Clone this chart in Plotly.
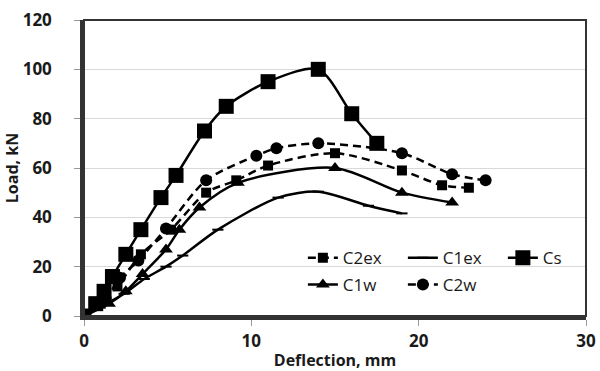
import plotly.graph_objects as go

# Data
cs_x = [0, 0.7, 1.2, 1.7, 2.5, 3.4, 4.6, 5.5, 7.2, 8.5, 11.0, 14.0, 16.0, 17.5]
cs_y = [0, 5, 10, 16, 25, 35, 48, 57, 75, 85, 95, 100, 82, 70]

c2ex_x = [0, 1.0, 2.0, 3.4, 5.2, 7.3, 9.1, 11.0, 15.0, 19.0, 21.4, 23.0]
c2ex_y = [0, 5, 12, 25, 35, 50, 55, 61, 66, 59, 53, 52]

c2w_x = [0, 1.3, 2.15, 3.25, 4.9, 7.3, 10.3, 11.5, 14.0, 19.0, 22.0, 24.0]
c2w_y = [0, 7, 15.5, 22.5, 35.5, 55, 65, 68, 70, 66, 57.5, 55]

c1w_x = [0, 1.5, 2.5, 3.5, 4.9, 5.7, 6.9, 9.2, 15.0, 19.0, 22.0]
c1w_y = [0, 5, 10, 17, 27, 35, 44, 54, 60, 50, 46]

c1ex_x = [0, 1.2, 2.4, 3.6, 4.9, 5.9, 8.0, 11.6, 14.0, 17.0, 19.0]
c1ex_y = [0, 4.5, 9, 15, 20, 24.5, 35, 48, 50.4, 44.7, 41.6]

x_ticks = [0, 10, 20, 30]
y_ticks = [0, 20, 40, 60, 80, 100, 120]

FONT = "Open Sans"
BLACK = "#000000"
TXT = "#1a1a1a"

fig = go.Figure()

def add(name, x, y, symbol, size, dash, legend):
    fig.add_trace(go.Scatter(
        x=x, y=y, name=name, mode="lines+markers",
        line=dict(color=BLACK, width=2.5, dash=dash, shape="spline", smoothing=0.8),
        marker=dict(symbol=symbol, size=size, color=BLACK,
                    line=dict(color=BLACK, width=2 if symbol == "line-ew" else 0)),
        legend=legend,
    ))

add("C2ex", c2ex_x, c2ex_y, "square", 10, "8px,5px", "legend")
add("C1ex", c1ex_x, c1ex_y, "line-ew", 8, "solid", "legend")
add("Cs", cs_x, cs_y, "square", 15, "solid", "legend")
add("C1w", c1w_x, c1w_y, "triangle-up", 12, "solid", "legend2")
add("C2w", c2w_x, c2w_y, "circle", 12, "8px,5px", "legend2")

leg_common = dict(
    orientation="h", bgcolor="rgba(0,0,0,0)", borderwidth=0,
    font=dict(family=FONT, size=17, color=TXT),
    entrywidth=55, entrywidthmode="pixels",
    xanchor="left", yanchor="middle", itemsizing="trace",
    tracegroupgap=0,
)

fig.update_layout(
    width=600, height=371,
    margin=dict(l=84, r=14, t=20, b=55, autoexpand=False),
    paper_bgcolor="white", plot_bgcolor="white",
    font=dict(family=FONT, color=TXT),
    showlegend=True,
    legend=dict(x=0.436, y=0.195, **leg_common),
    legend2=dict(x=0.436, y=0.105, **leg_common),
    xaxis=dict(
        range=[0, 30], tickvals=x_ticks, ticktext=[str(v) for v in x_ticks],
        showgrid=False, zeroline=False,
        showline=True, linecolor="#333333", linewidth=3.5,
        ticks="outside", ticklen=6, tickwidth=1, tickcolor="#999999",
        ticklabelstandoff=1,
        tickfont=dict(family=FONT, size=17, color=TXT, weight="bold"),
        title=dict(text="Deflection, mm", font=dict(family=FONT, size=16, color=TXT, weight="bold"), standoff=10),
    ),
    yaxis=dict(
        range=[0, 120], tickvals=y_ticks, ticktext=[str(v) for v in y_ticks],
        showgrid=True, gridcolor="#d9d9d9", gridwidth=1, zeroline=False,
        showline=True, linecolor="#333333", linewidth=3.5,
        ticks="outside", ticklen=6, tickwidth=1, tickcolor="#999999",
        ticklabelstandoff=19,
        tickfont=dict(family=FONT, size=17, color=TXT, weight="bold"),
        title=dict(text="Load, kN", font=dict(family=FONT, size=16, color=TXT, weight="bold"), standoff=1),
    ),
    shapes=[dict(type="rect", xref="paper", yref="paper", x0=0, x1=1, y0=0, y1=1,
                 line=dict(color="#333333", width=2), layer="above")],
)

fig.write_html("out.html")
